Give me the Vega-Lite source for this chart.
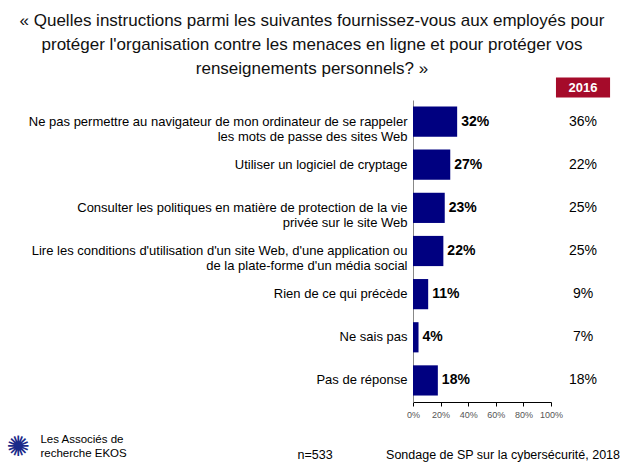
{
  "$schema": "https://vega.github.io/schema/vega-lite/v6.json",
  "width": 138,
  "height": 302,
  "autosize": {"type": "none"},
  "padding": {"left": 413, "top": 100, "right": 73, "bottom": 66},
  "background": "white",
  "title": {
    "text": ["« Quelles instructions parmi les suivantes fournissez-vous aux employés pour", "protéger l'organisation contre les menaces en ligne et pour protéger vos", "renseignements personnels? »"],
    "font": "Liberation Sans",
    "fontSize": 17,
    "fontWeight": "normal",
    "color": "#111111",
    "lineHeight": 24,
    "anchor": "middle",
    "frame": "group",
    "dx": -170,
    "offset": 0
  },
  "data": {
    "values": [
      {"item": "Ne pas permettre au navigateur de mon ordinateur de se rappeler|les mots de passe des sites Web", "v2018": 0.32, "v2016": 0.36},
      {"item": "Utiliser un logiciel de cryptage", "v2018": 0.27, "v2016": 0.22},
      {"item": "Consulter les politiques en matière de protection de la vie|privée sur le site Web", "v2018": 0.23, "v2016": 0.25},
      {"item": "Lire les conditions d'utilisation d'un site Web, d'une application ou|de la plate-forme d'un média social", "v2018": 0.22, "v2016": 0.25},
      {"item": "Rien de ce qui précède", "v2018": 0.11, "v2016": 0.09},
      {"item": "Ne sais pas", "v2018": 0.04, "v2016": 0.07},
      {"item": "Pas de réponse", "v2018": 0.18, "v2016": 0.18}
    ]
  },
  "encoding": {
    "y": {
      "field": "item",
      "type": "nominal",
      "sort": null,
      "scale": {"paddingInner": 0.3, "paddingOuter": 0.15},
      "axis": {
        "title": null,
        "ticks": false,
        "domainColor": "#888888",
        "labelFont": "Liberation Sans",
        "labelFontSize": 13,
        "labelColor": "#000000",
        "labelLimit": 500,
        "labelPadding": 6,
        "labelLineHeight": 15,
        "labelExpr": "split(datum.value, '|')"
      }
    }
  },
  "layer": [
    {
      "mark": {"type": "bar", "color": "#000080"},
      "encoding": {
        "x": {
          "field": "v2018",
          "type": "quantitative",
          "title": null,
          "scale": {"domain": [0, 1], "nice": false},
          "axis": {"values": [0, 0.2, 0.4, 0.6, 0.8, 1], "format": ".0%", "labelOverlap": false}
        }
      }
    },
    {
      "mark": {"type": "text", "align": "left", "dx": 4, "font": "Liberation Sans", "fontSize": 14, "fontWeight": "bold", "color": "#000000"},
      "encoding": {
        "x": {"field": "v2018", "type": "quantitative", "title": null, "axis": {"values": [0, 0.2, 0.4, 0.6, 0.8, 1], "format": ".0%", "labelOverlap": false}},
        "text": {"field": "v2018", "type": "quantitative", "format": ".0%"}
      }
    },
    {
      "mark": {"type": "text", "align": "center", "font": "Liberation Sans", "fontSize": 14, "color": "#000000"},
      "encoding": {
        "x": {"datum": 1.232, "type": "quantitative", "title": null, "axis": {"values": [0, 0.2, 0.4, 0.6, 0.8, 1], "format": ".0%", "labelOverlap": false}},
        "text": {"field": "v2016", "type": "quantitative", "format": ".0%"}
      }
    },
    {
      "data": {"values": [{"label": "2016"}]},
      "mark": {"type": "rect", "color": "#A50B2A", "height": 20, "yOffset": -34},
      "encoding": {
        "x": {"datum": 1.036, "type": "quantitative", "title": null, "axis": {"values": [0, 0.2, 0.4, 0.6, 0.8, 1], "format": ".0%", "labelOverlap": false}},
        "x2": {"datum": 1.428},
        "y": {"datum": "Ne pas permettre au navigateur de mon ordinateur de se rappeler|les mots de passe des sites Web"}
      }
    },
    {
      "data": {"values": [{"label": "2016"}]},
      "mark": {"type": "text", "align": "center", "baseline": "middle", "dy": -34, "font": "Liberation Sans", "fontSize": 13, "fontWeight": "bold", "color": "#ffffff"},
      "encoding": {
        "x": {"datum": 1.232, "type": "quantitative", "title": null, "axis": {"values": [0, 0.2, 0.4, 0.6, 0.8, 1], "format": ".0%", "labelOverlap": false}},
        "y": {"datum": "Ne pas permettre au navigateur de mon ordinateur de se rappeler|les mots de passe des sites Web"},
        "text": {"field": "label"}
      }
    },
    {
      "data": {"values": [{"label": "n=533", "pos": -0.71, "al": "center"}, {"label": "Sondage de SP sur la cybersécurité, 2018", "pos": 1.5, "al": "right"}]},
      "mark": {"type": "text", "baseline": "middle", "dy": 75, "font": "Liberation Sans", "fontSize": 12.5, "color": "#000000", "align": {"expr": "datum.al"}},
      "encoding": {
        "x": {"field": "pos", "type": "quantitative", "title": null, "axis": {"values": [0, 0.2, 0.4, 0.6, 0.8, 1], "format": ".0%", "labelOverlap": false}},
        "y": {"datum": "Pas de réponse"},
        "text": {"field": "label"}
      }
    },
    {
      "data": {"values": [{"pos": -2.70}]},
      "mark": {"type": "text", "text": ["Les Associés de", "recherche EKOS"], "align": "left", "baseline": "middle", "dy": 60, "lineHeight": 14, "font": "Liberation Sans", "fontSize": 11.5, "color": "#000000"},
      "encoding": {
        "x": {"field": "pos", "type": "quantitative", "title": null, "axis": {"values": [0, 0.2, 0.4, 0.6, 0.8, 1], "format": ".0%", "labelOverlap": false}},
        "y": {"datum": "Pas de réponse"}
      }
    },
    {
      "data": {"values": [{"label": "✺", "pos": -2.86}]},
      "mark": {"type": "text", "align": "center", "baseline": "middle", "dy": 68, "font": "DejaVu Sans", "fontSize": 28, "color": "#1a2a8a"},
      "encoding": {
        "x": {"field": "pos", "type": "quantitative", "title": null, "axis": {"values": [0, 0.2, 0.4, 0.6, 0.8, 1], "format": ".0%", "labelOverlap": false}},
        "y": {"datum": "Pas de réponse"},
        "text": {"field": "label"}
      }
    }
  ],
  "config": {
    "view": {"stroke": null},
    "axisX": {
      "grid": false,
      "labelFont": "Liberation Sans",
      "labelFontSize": 9,
      "labelColor": "#555555",
      "labelPadding": 4,
      "labelOverlap": false,
      "labelFlush": false,
      "domainColor": "#000000",
      "tickColor": "#000000",
      "tickSize": 4
    }
  }
}
